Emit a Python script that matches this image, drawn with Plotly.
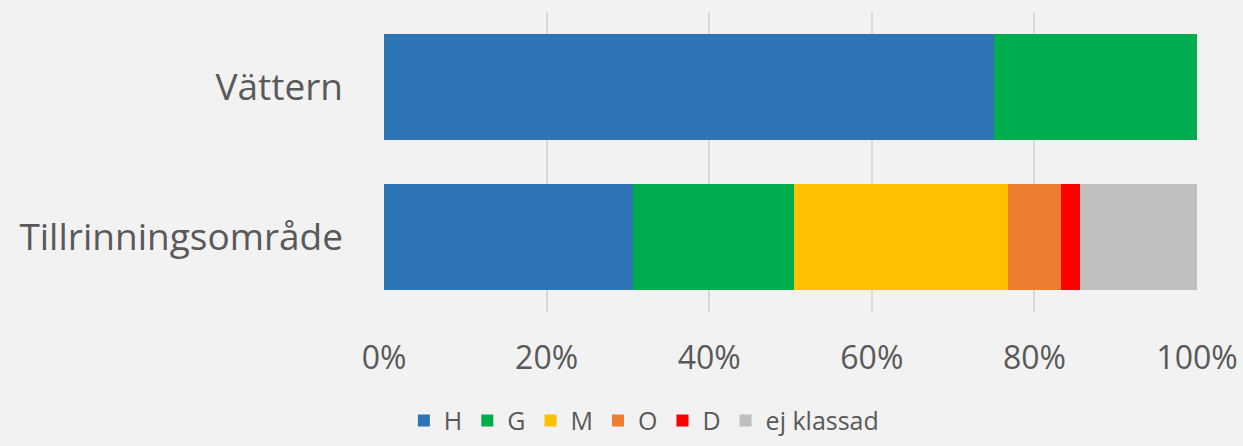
import plotly.graph_objects as go

categories = ["Tillrinningsområde", "Vättern"]
series_names = ["H", "G", "M", "O", "D", "ej klassad"]
H = [30.6, 75.0]
G = [19.8, 25.0]
M = [26.4, 0.0]
O = [6.5, 0.0]
D = [2.3, 0.0]
EJ = [14.4, 0.0]
colors = ["#2e75b6", "#00ad4e", "#ffc000", "#ed7d31", "#ff0000", "#bfbfbf"]

values = [H, G, M, O, D, EJ]

fig = go.Figure()
for name, vals, col in zip(series_names, values, colors):
    fig.add_trace(go.Bar(
        y=categories, x=vals, name=name, orientation="h",
        marker=dict(color=col, line=dict(width=0)),
    ))

fig.update_layout(
    barmode="stack",
    bargap=0.29,
    width=1243, height=446,
    margin=dict(l=384, r=46, t=12, b=134, autoexpand=False),
    paper_bgcolor="#f2f2f2",
    plot_bgcolor="#f2f2f2",
    font=dict(family="Open Sans, Segoe UI, sans-serif", color="#595959"),
    xaxis=dict(
        range=[0, 100],
        tickvals=[0, 20, 40, 60, 80, 100],
        ticktext=["0%", "20%", "40%", "60%", "80%", "100%"],
        showgrid=True, gridcolor="#d9d9d9", gridwidth=2,
        zeroline=False, showline=False,
        tickfont=dict(size=32, color="#595959"),
        ticklabelstandoff=24,
        automargin=False,
    ),
    yaxis=dict(
        tickfont=dict(size=37, color="#595959"),
        ticklabelstandoff=40,
        showgrid=False, zeroline=False,
        automargin=False,
    ),
    legend=dict(
        orientation="h",
        xref="container", yref="container",
        x=0.518, xanchor="center",
        y=0.005, yanchor="bottom",
        font=dict(size=25, color="#595959"),
        itemwidth=30,
        traceorder="normal",
        bgcolor="rgba(0,0,0,0)",
    ),
)

fig.write_html("out.html")
